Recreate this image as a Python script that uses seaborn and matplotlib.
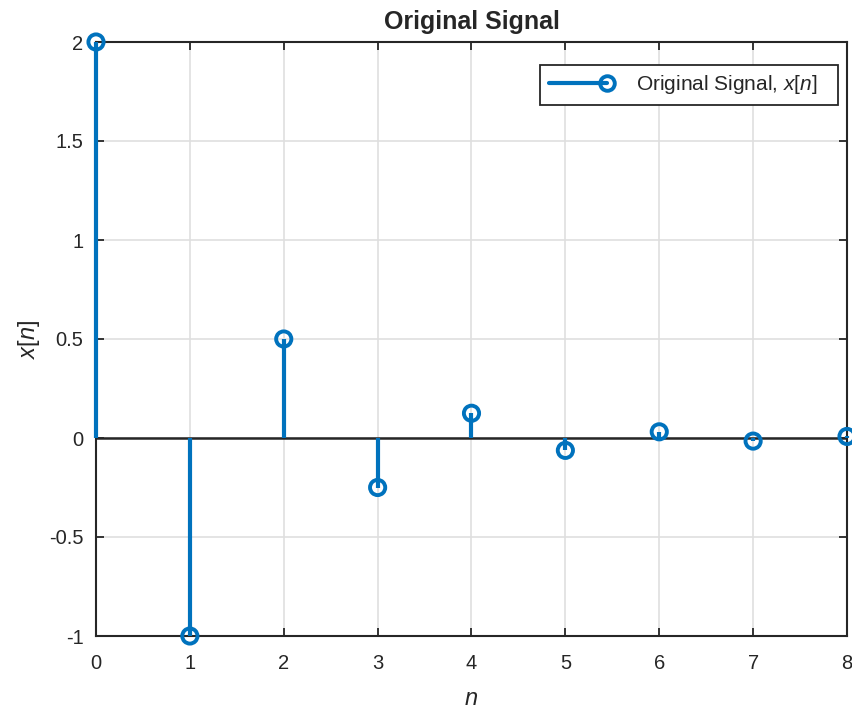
import matplotlib
matplotlib.use("Agg")
import matplotlib.pyplot as plt
import seaborn as sns
import pandas as pd
from matplotlib.lines import Line2D
from matplotlib.patches import Rectangle
from matplotlib.transforms import IdentityTransform
from matplotlib.legend_handler import HandlerBase

n_vals = [0, 1, 2, 3, 4, 5, 6, 7, 8]
x_vals = [2.0, -1.0, 0.5, -0.25, 0.125, -0.0625, 0.03125, -0.015625, 0.0078125]
xticks = [0, 1, 2, 3, 4, 5, 6, 7, 8]
yticks = [-1, -0.5, 0, 0.5, 1, 1.5, 2]
ytick_labels = ["-1", "-0.5", "0", "0.5", "1", "1.5", "2"]

sns.set_style("white")
plt.rcParams['font.family'] = ['Liberation Sans', 'DejaVu Sans']
plt.rcParams['mathtext.fontset'] = 'custom'
plt.rcParams['mathtext.it'] = 'Liberation Sans:italic'
plt.rcParams['mathtext.rm'] = 'Liberation Sans'

color = "#0072BD"
df = pd.DataFrame({"n": n_vals, "x": x_vals})

fig = plt.figure(figsize=(8.53, 7.11), dpi=100)
ax = fig.add_axes([96/853, 1-636/711, (847-96)/853, (636-42)/711])

ax.grid(True, color="#dfdfdf", linewidth=1.2)
ax.set_axisbelow(True)
ax.axhline(0, color="#262626", linewidth=1.8, zorder=2)
ax.vlines(df["n"], 0, df["x"], color=color, linewidth=3, zorder=3, clip_on=False)
sns.scatterplot(data=df, x="n", y="x", ax=ax, s=120, facecolor="none",
                edgecolor=color, linewidth=2.8, zorder=4, clip_on=False, legend=False)

ax.set_xlim(0, 8)
ax.set_ylim(-1, 2)
ax.set_xticks(xticks)
ax.set_yticks(yticks)
ax.set_yticklabels(ytick_labels)
ax.tick_params(direction="in", length=6, width=1.3, color="#262626",
               labelsize=14.5, labelcolor="#262626", top=True, right=True,
               bottom=True, left=True, pad=9)
ax.tick_params(axis="x", pad=13)
for sp in ax.spines.values():
    sp.set_color("#262626")
    sp.set_linewidth(1.5)

ax.set_xlabel("$n$", fontsize=17, color="#262626", labelpad=11)
ax.set_ylabel("$x[n]$", fontsize=17, color="#262626", labelpad=5)
ax.set_title("Original Signal", fontsize=18, fontweight="bold", pad=9)


class StemHandler(HandlerBase):
    def create_artists(self, legend, orig_handle, xdescent, ydescent,
                       width, height, fontsize, trans):
        y = height / 2 - ydescent
        x0 = -xdescent
        x1 = -xdescent + width
        ln = Line2D([x0, x1 - 6], [y, y], color=color, linewidth=3, transform=trans)
        mk = Line2D([x1 - 6], [y], color=color, linestyle="none", marker="o",
                    markersize=10.5, markerfacecolor="none", markeredgewidth=2.8,
                    transform=trans)
        return [ln, mk]


h = Line2D([0], [0], color=color)
leg = ax.legend([h], ["Original Signal, $x[n]$"], loc="upper right",
                bbox_to_anchor=((826 - 96) / 751, 0.9614), fontsize=15,
                frameon=False, handlelength=3.2,
                borderpad=0.4, handletextpad=1.0, borderaxespad=0,
                handler_map={Line2D: StemHandler()})

fig.canvas.draw()
bb = leg.get_window_extent()
right_px = bb.x1 + 12
frame = Rectangle((bb.x0, bb.y0), right_px - bb.x0, bb.height,
                  transform=IdentityTransform(), facecolor="white",
                  edgecolor="#262626", linewidth=1.3, zorder=4.8, clip_on=False)
ax.add_patch(frame)

fig.savefig("out.png", dpi=100)
